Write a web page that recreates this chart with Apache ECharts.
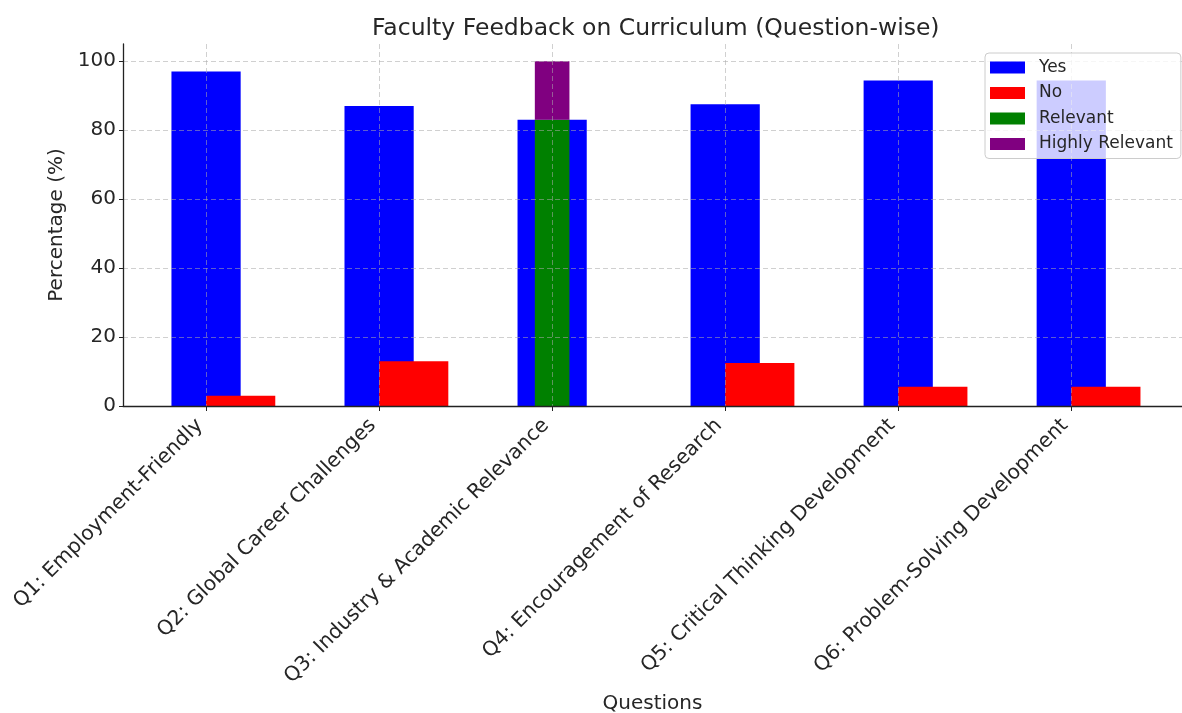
<!DOCTYPE html>
<html>
<head>
<meta charset="utf-8">
<script src="https://cdn.jsdelivr.net/npm/echarts@6/dist/echarts.min.js"></script>
<style>
  html, body { margin: 0; padding: 0; background: #fff; }
  #main { width: 1182px; height: 713px; }
</style>
</head>
<body>
<div id="main"></div>
<script>
// data
var questions = [
    'Q1: Employment-Friendly',
    'Q2: Global Career Challenges',
    'Q3: Industry & Academic Relevance',
    'Q4: Encouragement of Research',
    'Q5: Critical Thinking Development',
    'Q6: Problem-Solving Development'
];
var yesVals = [97, 87, 83, 87.5, 94.4, 94.4];
var noVals = [3, 13, null, 12.5, 5.6, 5.6];
var relevantVals = [null, null, 83, null, null, null];
var highlyVals = [null, null, 17, null, null, null];

var fontName = 'DejaVu Sans';
var textColor = '#262626';

function toData(arr) {
    var out = [];
    for (var i = 0; i < arr.length; i++) {
        if (arr[i] != null) out.push([i, arr[i]]);
    }
    return out;
}

// bar drawn on the value x axis: offset & width in category units
function barItem(offset, width, baseArr) {
    return function (params, api) {
        var i = api.value(0);
        var v = api.value(1);
        var base = baseArr ? (baseArr[i] || 0) : 0;
        var p0 = api.coord([i + offset - width / 2, base + v]);
        var p1 = api.coord([i + offset + width / 2, base]);
        return {
            type: 'rect',
            shape: { x: p0[0], y: p0[1], width: p1[0] - p0[0], height: p1[1] - p0[1] },
            style: api.style()
        };
    };
}

var gridLine = {
    show: true,
    lineStyle: { color: 'rgba(170,170,170,0.55)', width: 1, type: [5, 3] }
};

var myChart = echarts.init(document.getElementById('main'));
var option = {
    backgroundColor: '#ffffff',
    animation: false,
    title: {
        text: 'Faculty Feedback on Curriculum (Question-wise)',
        left: 367,
        top: 12,
        textStyle: { fontFamily: fontName, fontSize: 23.5, fontWeight: 'normal', color: textColor }
    },
    legend: {
        data: ['Yes', 'No', 'Relevant', 'Highly Relevant'],
        orient: 'vertical',
        left: 985,
        top: 53,
        icon: 'rect',
        itemWidth: 35,
        itemHeight: 12,
        itemGap: 6.5,
        padding: [5, 8, 5, 5],
        backgroundColor: 'rgba(255,255,255,0.8)',
        borderColor: '#cccccc',
        borderWidth: 1,
        borderRadius: 4,
        z: 20,
        textStyle: { fontFamily: fontName, fontSize: 17, color: textColor, lineHeight: 19, padding: [0, 0, 0, 9] }
    },
    grid: { left: 123, right: 0, top: 44, bottom: 307, outerBoundsMode: 'none', containLabel: false },
    xAxis: {
        type: 'value',
        min: -0.48,
        max: 5.64,
        splitNumber: 6,
        z: 5,
        name: 'Questions',
        nameLocation: 'middle',
        nameGap: 286,
        nameTextStyle: { fontFamily: fontName, fontSize: 20, color: textColor },
        axisLine: { show: true, onZero: false, lineStyle: { color: '#222', width: 1.3 } },
        axisTick: { show: true, length: 5, lineStyle: { color: '#222' } },
        axisLabel: {
            rotate: 45,
            margin: 10,
            padding: [0, 9, 0, 0],
            fontFamily: fontName,
            fontSize: 20.3,
            color: textColor,
            showMinLabel: false,
            showMaxLabel: false,
            formatter: function (v) {
                return (Math.abs(v - Math.round(v)) < 1e-6 && questions[Math.round(v)]) ? questions[Math.round(v)] : '';
            }
        },
        splitLine: Object.assign({ showMinLine: false, showMaxLine: false }, gridLine)
    },
    yAxis: {
        type: 'value',
        min: 0,
        max: 105,
        interval: 20,
        z: 5,
        name: 'Percentage (%)',
        nameLocation: 'middle',
        nameGap: 50,
        nameTextStyle: { fontFamily: fontName, fontSize: 20, color: textColor },
        axisLine: { show: true, onZero: false, lineStyle: { color: '#222', width: 1.3 } },
        axisTick: { show: true, length: 4, lineStyle: { color: '#222' } },
        axisLabel: {
            margin: 7,
            fontFamily: fontName,
            fontSize: 20,
            color: textColor,
            showMaxLabel: false
        },
        splitLine: Object.assign({ showMinLine: false, showMaxLine: false }, gridLine)
    },
    series: [
        {
            name: 'Yes',
            type: 'custom',
            renderItem: barItem(0, 0.4),
            itemStyle: { color: '#0000ff' },
            encode: { x: 0, y: 1 },
            data: toData(yesVals)
        },
        {
            name: 'No',
            type: 'custom',
            renderItem: barItem(0.2, 0.4),
            itemStyle: { color: '#ff0000' },
            encode: { x: 0, y: 1 },
            data: toData(noVals)
        },
        {
            name: 'Relevant',
            type: 'custom',
            renderItem: barItem(0, 0.2),
            itemStyle: { color: '#008000' },
            encode: { x: 0, y: 1 },
            data: toData(relevantVals)
        },
        {
            name: 'Highly Relevant',
            type: 'custom',
            renderItem: barItem(0, 0.2, relevantVals),
            itemStyle: { color: '#800080' },
            encode: { x: 0, y: 1 },
            data: toData(highlyVals)
        }
    ]
};
myChart.setOption(option);
</script>
</body>
</html>
